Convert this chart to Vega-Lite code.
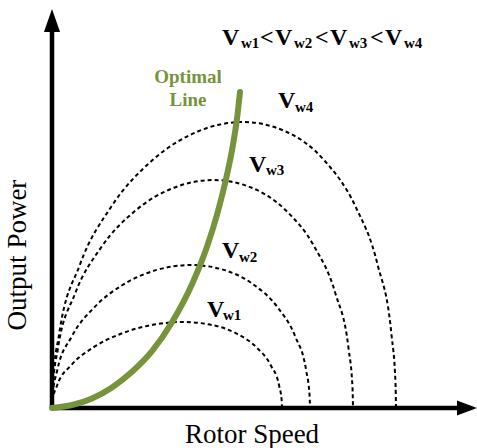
{
  "$schema": "https://vega.github.io/schema/vega-lite/v6.json",
  "width": 477,
  "height": 448,
  "padding": 0,
  "autosize": {"type": "none"},
  "background": "white",
  "config": {"view": {"stroke": null}},
  "datasets": {
    "curves": [
      {"c": "Vw1", "x": 0, "y": 0}, {"c": "Vw1", "x": 0.56, "y": 7.5}, {"c": "Vw1", "x": 4.99, "y": 22.26}, {"c": "Vw1", "x": 19.41, "y": 43}, {"c": "Vw1", "x": 41.68, "y": 60.81}, {"c": "Vw1", "x": 69.5, "y": 74.48}, {"c": "Vw1", "x": 100.17, "y": 83.07}, {"c": "Vw1", "x": 131, "y": 86}, {"c": "Vw1", "x": 159.69, "y": 83.07}, {"c": "Vw1", "x": 184.5, "y": 74.48}, {"c": "Vw1", "x": 204.32, "y": 60.81}, {"c": "Vw1", "x": 218.59, "y": 43}, {"c": "Vw1", "x": 227.15, "y": 22.26}, {"c": "Vw1", "x": 229.68, "y": 7.5}, {"c": "Vw1", "x": 230, "y": 0},
      {"c": "Vw2", "x": 0, "y": 0}, {"c": "Vw2", "x": 0.57, "y": 12.47}, {"c": "Vw2", "x": 5.07, "y": 37.01}, {"c": "Vw2", "x": 19.79, "y": 71.5}, {"c": "Vw2", "x": 42.78, "y": 101.12}, {"c": "Vw2", "x": 72, "y": 123.84}, {"c": "Vw2", "x": 104.94, "y": 138.12}, {"c": "Vw2", "x": 139, "y": 143}, {"c": "Vw2", "x": 171.72, "y": 138.12}, {"c": "Vw2", "x": 201, "y": 123.84}, {"c": "Vw2", "x": 225.22, "y": 101.12}, {"c": "Vw2", "x": 243.21, "y": 71.5}, {"c": "Vw2", "x": 254.27, "y": 37.01}, {"c": "Vw2", "x": 257.59, "y": 12.47}, {"c": "Vw2", "x": 258, "y": 0},
      {"c": "Vw3", "x": 0, "y": 0}, {"c": "Vw3", "x": 0.65, "y": 19.88}, {"c": "Vw3", "x": 5.87, "y": 59.01}, {"c": "Vw3", "x": 22.92, "y": 114}, {"c": "Vw3", "x": 49.58, "y": 161.22}, {"c": "Vw3", "x": 83.5, "y": 197.45}, {"c": "Vw3", "x": 121.81, "y": 220.23}, {"c": "Vw3", "x": 161.5, "y": 228}, {"c": "Vw3", "x": 199.71, "y": 220.23}, {"c": "Vw3", "x": 234, "y": 197.45}, {"c": "Vw3", "x": 262.42, "y": 161.22}, {"c": "Vw3", "x": 283.58, "y": 114}, {"c": "Vw3", "x": 296.61, "y": 59.01}, {"c": "Vw3", "x": 300.51, "y": 19.88}, {"c": "Vw3", "x": 301, "y": 0},
      {"c": "Vw4", "x": 0, "y": 0}, {"c": "Vw4", "x": 0.79, "y": 24.94}, {"c": "Vw4", "x": 7.14, "y": 74.02}, {"c": "Vw4", "x": 27.8, "y": 143}, {"c": "Vw4", "x": 59.88, "y": 202.23}, {"c": "Vw4", "x": 100.25, "y": 247.68}, {"c": "Vw4", "x": 145.22, "y": 276.25}, {"c": "Vw4", "x": 191, "y": 286}, {"c": "Vw4", "x": 234.24, "y": 276.25}, {"c": "Vw4", "x": 272.25, "y": 247.68}, {"c": "Vw4", "x": 303.12, "y": 202.23}, {"c": "Vw4", "x": 325.7, "y": 143}, {"c": "Vw4", "x": 339.4, "y": 74.02}, {"c": "Vw4", "x": 343.49, "y": 24.94}, {"c": "Vw4", "x": 344, "y": 0}
    ],
    "optimal": [
      {"x": 0, "y": 0}, {"x": 20, "y": 3}, {"x": 40, "y": 9.6}, {"x": 60, "y": 20.6}, {"x": 80, "y": 36.2}, {"x": 100, "y": 56.8}, {"x": 120, "y": 85.8}, {"x": 140, "y": 123.8}, {"x": 155, "y": 161.3}, {"x": 165, "y": 193.3}, {"x": 175, "y": 233.3}, {"x": 181, "y": 263.3}, {"x": 185, "y": 289.3}, {"x": 188, "y": 316}
    ],
    "axes": [
      {"x": 0, "y": 0, "x2": 410, "y2": 0},
      {"x": 0, "y": 0, "x2": 0, "y2": 380}
    ],
    "xarrow": [{"x": 415, "y": 0}],
    "yarrow": [{"x": 0, "y": 387.5}],
    "big": [
      {"x": 170, "y": 363, "t": "V"}, {"x": 208, "y": 363, "t": "<"},
      {"x": 223, "y": 363, "t": "V"}, {"x": 263, "y": 363, "t": "<"},
      {"x": 278, "y": 363, "t": "V"}, {"x": 318, "y": 363, "t": "<"},
      {"x": 333, "y": 363, "t": "V"},
      {"x": 226, "y": 300, "t": "V"},
      {"x": 197, "y": 236, "t": "V"},
      {"x": 170, "y": 150, "t": "V"},
      {"x": 155, "y": 91, "t": "V"}
    ],
    "small": [
      {"x": 189, "y": 360, "t": "w1"}, {"x": 242, "y": 360, "t": "w2"},
      {"x": 297, "y": 360, "t": "w3"}, {"x": 352, "y": 360, "t": "w4"},
      {"x": 243, "y": 296, "t": "w4"},
      {"x": 214, "y": 233, "t": "w3"},
      {"x": 187, "y": 146, "t": "w2"},
      {"x": 171, "y": 88, "t": "w1"}
    ],
    "optlabel": [
      {"x": 136, "y": 325, "t": "Optimal"},
      {"x": 136, "y": 302, "t": "Line"}
    ],
    "xtitle": [{"x": 200, "y": -35, "t": "Rotor Speed"}],
    "ytitle": [{"x": -26, "y": 153, "t": "Output Power"}]
  },
  "encoding": {
    "x": {"field": "x", "type": "quantitative", "scale": {"domain": [-52, 425], "nice": false, "zero": false}, "axis": null},
    "y": {"field": "y", "type": "quantitative", "scale": {"domain": [-40, 408], "nice": false, "zero": false}, "axis": null}
  },
  "layer": [
    {
      "data": {"name": "curves"},
      "mark": {"type": "line", "color": "black", "strokeWidth": 2, "strokeDash": [4, 3], "interpolate": "monotone"},
      "encoding": {"detail": {"field": "c"}}
    },
    {
      "data": {"name": "axes"},
      "mark": {"type": "rule", "color": "black", "strokeWidth": 4.5},
      "encoding": {
        "x2": {"field": "x2"},
        "y2": {"field": "y2"}
      }
    },
    {
      "data": {"name": "xarrow"},
      "mark": {"type": "point", "filled": true, "opacity": 1, "color": "black", "shape": "M1,0L-1,0.75L-1,-0.75Z", "size": 400}
    },
    {
      "data": {"name": "yarrow"},
      "mark": {"type": "point", "filled": true, "opacity": 1, "color": "black", "shape": "M0,-1L0.7,1L-0.7,1Z", "size": 529}
    },
    {
      "data": {"name": "optimal"},
      "mark": {"type": "line", "color": "#77933C", "strokeWidth": 6, "strokeCap": "round", "interpolate": "monotone"}
    },
    {
      "data": {"name": "big"},
      "mark": {"type": "text", "font": "Liberation Serif", "fontWeight": "bold", "fontSize": 24, "align": "left", "baseline": "alphabetic", "color": "black"},
      "encoding": {"text": {"field": "t"}}
    },
    {
      "data": {"name": "small"},
      "mark": {"type": "text", "font": "Liberation Serif", "fontWeight": "bold", "fontSize": 15, "align": "left", "baseline": "alphabetic", "color": "black"},
      "encoding": {"text": {"field": "t"}}
    },
    {
      "data": {"name": "optlabel"},
      "mark": {"type": "text", "font": "Liberation Serif", "fontWeight": "bold", "fontSize": 19, "align": "center", "baseline": "alphabetic", "color": "#77933C"},
      "encoding": {"text": {"field": "t"}}
    },
    {
      "data": {"name": "xtitle"},
      "mark": {"type": "text", "font": "Liberation Serif", "fontSize": 27, "align": "center", "baseline": "alphabetic", "color": "black"},
      "encoding": {"text": {"field": "t"}}
    },
    {
      "data": {"name": "ytitle"},
      "mark": {"type": "text", "font": "Liberation Serif", "fontSize": 27, "align": "center", "baseline": "alphabetic", "angle": 270, "color": "black"},
      "encoding": {"text": {"field": "t"}}
    }
  ]
}
